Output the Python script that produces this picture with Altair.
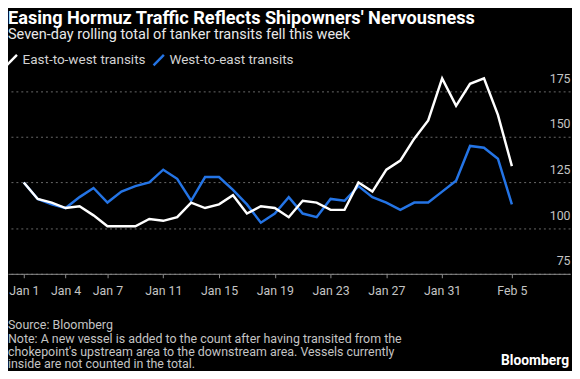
import altair as alt
import pandas as pd

# ---- data ----
dates = pd.date_range("2024-01-01", "2024-02-05", freq="D").strftime("%Y-%m-%d").tolist()
east_to_west = [125, 116, 114, 111, 112, 107, 101, 101, 101, 105, 104, 106, 114, 111, 113, 118,
                108, 112, 111, 106, 115, 114, 110, 110, 125, 120, 132, 137, 149, 159, 182, 167,
                179, 182, 162, 134]
west_to_east = [125, 116, 113, 111, 117, 122, 114, 120, 123, 125, 132, 127, 115, 128, 128, 121,
                113, 103, 108, 117, 108, 106, 116, 115, 123, 117, 114, 110, 114, 114, 120, 126,
                145, 144, 138, 113]
series_names = ["East-to-west transits", "West-to-east transits"]
series_colors = ["#ffffff", "#2474e5"]
y_ticks = [75, 100, 125, 150, 175]
x_tick_days = [(1, 1), (1, 4), (1, 7), (1, 11), (1, 15), (1, 19), (1, 23), (1, 27), (1, 31), (2, 5)]

title_text = "Easing Hormuz Traffic Reflects Shipowners' Nervousness"
subtitle_text = "Seven-day rolling total of tanker transits fell this week"
footer_lines = [
    "Source: Bloomberg",
    "Note: A new vessel is added to the count after having transited from the",
    "chokepoint's upstream area to the downstream area. Vessels currently",
    "inside are not counted in the total.",
]

df_e = pd.DataFrame({"date": dates, "value": east_to_west, "series": series_names[0]})
df_w = pd.DataFrame({"date": dates, "value": west_to_east, "series": series_names[1]})

FONT = "Roboto"

x_enc = alt.X(
    "date:T",
    title=None,
    scale=alt.Scale(
        type="utc",
        domain=[
            alt.DateTime(year=2023, month=12, date=30, hours=20, minutes=50, utc=True),
            alt.DateTime(year=2024, month=2, date=9, hours=4, minutes=5, utc=True),
        ],
    ),
    axis=alt.Axis(
        values=[alt.DateTime(year=2024, month=m, date=d, utc=True) for m, d in x_tick_days],
        labelExpr="utcFormat(datum.value, '%b %-d')",
        grid=False,
        domainColor="#8c8c8c",
        tickColor="#8c8c8c",
        tickSize=4,
        labelColor="#c4c4c4",
        labelFont=FONT,
        labelFontSize=12.5,
        labelPadding=7,
        labelFlush=False,
        labelOverlap=False,
    ),
)
y_enc = alt.Y(
    "value:Q",
    title=None,
    scale=alt.Scale(domain=[75, 190], nice=False, zero=False),
    axis=alt.Axis(
        orient="right",
        values=y_ticks,
        domain=False,
        ticks=False,
        tickSize=0,
        labelAlign="right",
        labelBaseline="alphabetic",
        labelPadding=0,
        labelOffset=-9,
        labelColor="#c4c4c4",
        labelFont=FONT,
        labelFontSize=12.5,
        gridColor="#6a6a6a",
        gridDash=[2, 3],
        gridWidth=1,
    ),
)
color_enc = alt.Color(
    "series:N",
    scale=alt.Scale(domain=series_names, range=series_colors),
    legend=alt.Legend(
        title=None,
        orient="none",
        direction="horizontal",
        legendX=-3,
        legendY=-11,
        symbolType="M-1,1L1,-1",
        symbolSize=110,
        symbolStrokeWidth=2.5,
        labelColor="#d2d2d2",
        labelFont=FONT,
        labelFontSize=13.7,
        labelOffset=4,
        columnPadding=2,
    ),
)

west_line = alt.Chart(df_w).mark_line(strokeWidth=2.5).encode(x=x_enc, y=y_enc, color=color_enc)
east_line = alt.Chart(df_e).mark_line(strokeWidth=2.5).encode(x=x_enc, y=y_enc, color=color_enc)


def text_layer(txt, x, y, size, color, weight="normal", align="left"):
    return alt.Chart(pd.DataFrame({"t": [txt]})).mark_text(
        align=align, baseline="alphabetic", font=FONT, fontSize=size,
        fontWeight=weight, color=color
    ).encode(text="t:N", x=alt.value(x), y=alt.value(y))


title_layer = text_layer(title_text, 0, -40.5, 18.4, "#ffffff", weight="bold")
subtitle_layer = text_layer(subtitle_text, 0, -25.5, 14.7, "#e8e8e8")

footer_y = [269, 282.7, 296.3, 309]
footer_marks = [text_layer(line, 0, yy, 12.6, "#c4c4c4") for line, yy in zip(footer_lines, footer_y)]
brand = text_layer("Bloomberg", 569, 305, 14, "#ffffff", weight="bold", align="right")

chart = alt.layer(
    west_line, east_line, title_layer, subtitle_layer, *footer_marks, brand
).properties(
    width=570,
    height=213,
    padding={"left": 0, "top": 54, "right": 2, "bottom": 96},
    autosize=alt.AutoSizeParams(type="none"),
    background="#000000",
).configure_view(stroke=None)

chart.save("out.html", embed_options={"renderer": "svg", "actions": False})
